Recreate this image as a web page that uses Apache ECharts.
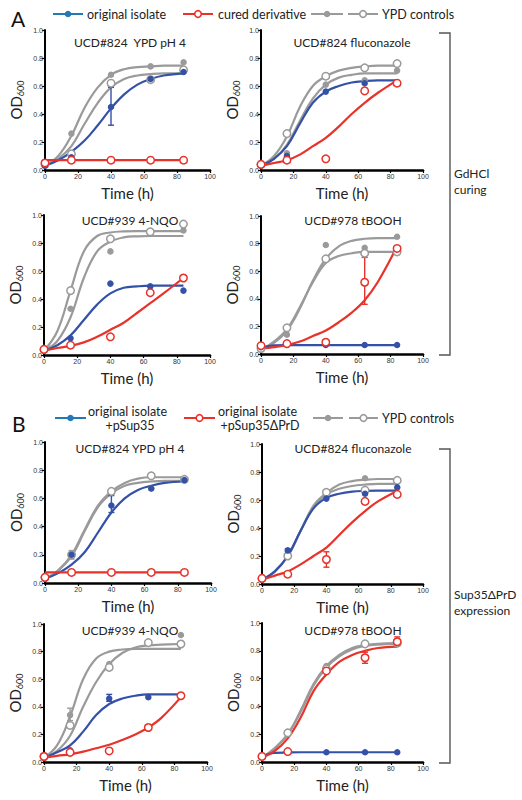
<!DOCTYPE html>
<html><head><meta charset="utf-8">
<script src="https://cdn.jsdelivr.net/npm/echarts@6/dist/echarts.min.js"></script>
<style>html,body{margin:0;padding:0;background:#fff}#c{width:522px;height:800px}</style>
</head><body><div id="c"></div>
<script>
// ---------------- DATA ----------------
const pointTimes = [0, 16, 40, 64, 84];
const fitTimes = [0, 8, 16, 24, 32, 40, 48, 56, 64, 72, 84];
const panelTitles = ['UCD#824  YPD pH 4', 'UCD#824 fluconazole', 'UCD#939 4-NQO', 'UCD#978 tBOOH',
                     'UCD#824 YPD pH 4', 'UCD#824 fluconazole', 'UCD#939 4-NQO', 'UCD#978 tBOOH'];
const legendA = ['original isolate', 'cured derivative', 'YPD controls'];
const legendB = ['original isolate', '+pSup35', 'original isolate', '+pSup35ΔPrD', 'YPD controls'];
const bracketLabels = ['GdHCl', 'curing', 'Sup35ΔPrD', 'expression'];

// Panel A1  UCD#824 YPD pH 4
const a1Blue = [0.03, 0.09, 0.45, 0.65, 0.70];
const a1BlueFit = [0.03, 0.07, 0.13, 0.21, 0.32, 0.44, 0.54, 0.61, 0.65, 0.675, 0.69];
const a1Red = [0.05, 0.07, 0.07, 0.07, 0.07];
const a1RedFit = [0.07, 0.07, 0.07, 0.07, 0.07, 0.07, 0.07, 0.07, 0.07, 0.07, 0.07];
const a1GreyF = [0.04, 0.26, 0.68, 0.74, 0.77];
const a1GreyFFit = [0.03, 0.10, 0.245, 0.445, 0.59, 0.68, 0.72, 0.735, 0.74, 0.745, 0.745];
const a1GreyO = [0.04, 0.115, 0.62, 0.645, 0.715];
const a1GreyOFit = [0.03, 0.08, 0.17, 0.33, 0.48, 0.59, 0.65, 0.675, 0.685, 0.69, 0.69];
const a1BlueErr = [[40, 0.32, 0.59]];

// Panel A2  UCD#824 fluconazole
const a2Blue = [0.03, 0.10, 0.56, 0.62, 0.625];
const a2BlueFit = [0.03, 0.08, 0.17, 0.33, 0.48, 0.56, 0.60, 0.625, 0.635, 0.64, 0.64];
const a2Red = [0.04, 0.07, 0.08, 0.565, 0.62];
const a2RedFit = [0.03, 0.05, 0.07, 0.11, 0.17, 0.23, 0.31, 0.40, 0.48, 0.55, 0.64];
const a2GreyF = [0.04, 0.12, 0.61, 0.64, 0.71];
const a2GreyFFit = [0.03, 0.08, 0.18, 0.35, 0.51, 0.61, 0.66, 0.68, 0.69, 0.69, 0.69];
const a2GreyO = [0.04, 0.26, 0.67, 0.73, 0.76];
const a2GreyOFit = [0.03, 0.10, 0.24, 0.45, 0.60, 0.67, 0.71, 0.73, 0.74, 0.745, 0.745];
const a2RedErr = [[64, 0.55, 0.585]];

// Panel A3  UCD#939 4-NQO
const a3Blue = [0.03, 0.12, 0.51, 0.49, 0.46];
const a3BlueFit = [0.03, 0.07, 0.14, 0.25, 0.36, 0.44, 0.48, 0.49, 0.495, 0.495, 0.495];
const a3Red = [0.04, 0.07, 0.13, 0.445, 0.55];
const a3RedFit = [0.03, 0.05, 0.065, 0.09, 0.13, 0.18, 0.23, 0.30, 0.37, 0.44, 0.55];
const a3GreyF = [0.04, 0.33, 0.74, 0.87, 0.89];
const a3GreyFFit = [0.03, 0.10, 0.27, 0.55, 0.74, 0.81, 0.84, 0.848, 0.85, 0.85, 0.85];
const a3GreyO = [0.04, 0.46, 0.83, 0.88, 0.935];
const a3GreyOFit = [0.03, 0.17, 0.46, 0.74, 0.85, 0.875, 0.883, 0.885, 0.885, 0.885, 0.885];
const a3GreyOErr = [[16, 0.44, 0.48]];

// Panel A4  UCD#978 tBOOH
const a4Blue = [0.05, 0.065, 0.065, 0.065, 0.065];
const a4BlueFit = [0.045, 0.062, 0.065, 0.065, 0.065, 0.065, 0.065, 0.065, 0.065, 0.065, 0.065];
const a4Red = [0.06, 0.075, 0.085, 0.52, 0.765];
const a4RedFit = [0.04, 0.05, 0.065, 0.09, 0.13, 0.17, 0.23, 0.30, 0.39, 0.52, 0.78];
const a4GreyF = [0.04, 0.14, 0.79, 0.77, 0.85];
const a4GreyFFit = [0.03, 0.08, 0.17, 0.33, 0.53, 0.69, 0.78, 0.82, 0.835, 0.84, 0.84];
const a4GreyO = [0.04, 0.19, 0.69, 0.73, 0.74];
const a4GreyOFit = [0.03, 0.09, 0.18, 0.34, 0.52, 0.66, 0.71, 0.73, 0.74, 0.74, 0.74];
const a4RedErr = [[64, 0.36, 0.70]];

// Panel B1  UCD#824 YPD pH 4
const b1Blue = [0.03, 0.20, 0.55, 0.67, 0.73];
const b1BlueFit = [0.03, 0.07, 0.13, 0.22, 0.36, 0.50, 0.60, 0.66, 0.69, 0.71, 0.72];
const b1Red = [0.04, 0.075, 0.075, 0.075, 0.075];
const b1RedFit = [0.075, 0.075, 0.075, 0.075, 0.075, 0.075, 0.075, 0.075, 0.075, 0.075, 0.075];
const b1GreyF = [0.04, 0.19, 0.65, 0.67, 0.735];
const b1GreyFFit = [0.03, 0.09, 0.19, 0.37, 0.54, 0.635, 0.69, 0.71, 0.72, 0.725, 0.725];
const b1GreyO = [0.04, 0.20, 0.65, 0.76, 0.735];
const b1GreyOFit = [0.03, 0.09, 0.20, 0.38, 0.55, 0.65, 0.71, 0.74, 0.75, 0.75, 0.75];
const b1BlueErr = [[40, 0.50, 0.62]];
const b1GreyErr = [[16, 0.17, 0.23]];

// Panel B2  UCD#824 fluconazole
const b2Blue = [0.03, 0.24, 0.61, 0.645, 0.69];
const b2BlueFit = [0.03, 0.09, 0.20, 0.38, 0.54, 0.615, 0.645, 0.66, 0.665, 0.667, 0.667];
const b2Red = [0.04, 0.07, 0.175, 0.59, 0.64];
const b2RedFit = [0.03, 0.06, 0.09, 0.14, 0.20, 0.26, 0.35, 0.44, 0.52, 0.59, 0.665];
const b2GreyF = [0.04, 0.20, 0.66, 0.755, 0.745];
const b2GreyFFit = [0.03, 0.09, 0.20, 0.38, 0.56, 0.65, 0.71, 0.735, 0.745, 0.75, 0.75];
const b2GreyO = [0.04, 0.20, 0.655, 0.67, 0.74];
const b2GreyOFit = [0.03, 0.09, 0.20, 0.38, 0.55, 0.64, 0.68, 0.70, 0.71, 0.715, 0.715];
const b2BlueErr = [[16, 0.21, 0.25]];
const b2RedErr = [[40, 0.12, 0.23]];

// Panel B3  UCD#939 4-NQO
const b3Blue = [0.03, 0.085, 0.46, 0.47, 0.48];
const b3BlueFit = [0.03, 0.07, 0.12, 0.22, 0.34, 0.42, 0.46, 0.48, 0.49, 0.49, 0.49];
const b3Red = [0.04, 0.07, 0.08, 0.25, 0.48];
const b3RedFit = [0.03, 0.045, 0.055, 0.075, 0.10, 0.125, 0.16, 0.20, 0.25, 0.32, 0.47];
const b3GreyF = [0.04, 0.34, 0.71, 0.865, 0.92];
const b3GreyFFit = [0.03, 0.12, 0.33, 0.60, 0.75, 0.80, 0.815, 0.82, 0.82, 0.82, 0.82];
const b3GreyO = [0.04, 0.265, 0.685, 0.865, 0.855];
const b3GreyOFit = [0.03, 0.08, 0.19, 0.40, 0.58, 0.71, 0.79, 0.83, 0.845, 0.85, 0.855];
const b3GreyErr = [[16, 0.30, 0.39]];
const b3BlueErr = [[40, 0.44, 0.49]];

// Panel B4  UCD#978 tBOOH
const b4Blue = [0.04, 0.07, 0.07, 0.07, 0.07];
const b4BlueFit = [0.04, 0.065, 0.068, 0.07, 0.07, 0.07, 0.07, 0.07, 0.07, 0.07, 0.07];
const b4Red = [0.04, 0.075, 0.655, 0.75, 0.865];
const b4RedFit = [0.03, 0.08, 0.17, 0.32, 0.51, 0.63, 0.72, 0.77, 0.80, 0.82, 0.83];
const b4GreyF = [0.04, 0.215, 0.69, 0.845, 0.865];
const b4GreyFFit = [0.03, 0.10, 0.20, 0.37, 0.56, 0.69, 0.77, 0.82, 0.84, 0.85, 0.855];
const b4GreyO = [0.04, 0.21, 0.67, 0.85, 0.855];
const b4GreyOFit = [0.03, 0.10, 0.20, 0.36, 0.55, 0.68, 0.76, 0.81, 0.835, 0.845, 0.85];
const b4RedErr = [[64, 0.71, 0.79], [84, 0.84, 0.90]];

// ---------------- LAYOUT / STYLE ----------------
const F = 'Lato';
const BLUE = '#3451a8', RED = '#e8322a', GREY = '#9a9a9a', LEG_BLUE = '#2479b5';
const grids = [
  {left: 45, top: 30, width: 165, height: 140},
  {left: 261, top: 30, width: 162, height: 140},
  {left: 44, top: 215, width: 166, height: 140},
  {left: 261, top: 216, width: 162, height: 138},
  {left: 45, top: 442, width: 166, height: 141},
  {left: 262, top: 444, width: 161, height: 140},
  {left: 44, top: 624, width: 163, height: 138},
  {left: 262, top: 623, width: 161, height: 139}
];
const titlePos = [[130, 42], [352, 42], [130, 220], [353, 220], [130, 448], [353, 448], [130, 630], [353, 630]];

const panels = [
  {blue: a1Blue, blueFit: a1BlueFit, red: a1Red, redFit: a1RedFit, gf: a1GreyF, gfFit: a1GreyFFit, go: a1GreyO, goFit: a1GreyOFit, errs: [[a1BlueErr, BLUE]]},
  {blue: a2Blue, blueFit: a2BlueFit, red: a2Red, redFit: a2RedFit, gf: a2GreyF, gfFit: a2GreyFFit, go: a2GreyO, goFit: a2GreyOFit, errs: [[a2RedErr, RED]]},
  {blue: a3Blue, blueFit: a3BlueFit, red: a3Red, redFit: a3RedFit, gf: a3GreyF, gfFit: a3GreyFFit, go: a3GreyO, goFit: a3GreyOFit, errs: [[a3GreyOErr, GREY]]},
  {blue: a4Blue, blueFit: a4BlueFit, red: a4Red, redFit: a4RedFit, gf: a4GreyF, gfFit: a4GreyFFit, go: a4GreyO, goFit: a4GreyOFit, errs: [[a4RedErr, RED]]},
  {blue: b1Blue, blueFit: b1BlueFit, red: b1Red, redFit: b1RedFit, gf: b1GreyF, gfFit: b1GreyFFit, go: b1GreyO, goFit: b1GreyOFit, errs: [[b1BlueErr, BLUE], [b1GreyErr, GREY]]},
  {blue: b2Blue, blueFit: b2BlueFit, red: b2Red, redFit: b2RedFit, gf: b2GreyF, gfFit: b2GreyFFit, go: b2GreyO, goFit: b2GreyOFit, errs: [[b2BlueErr, BLUE], [b2RedErr, RED]]},
  {blue: b3Blue, blueFit: b3BlueFit, red: b3Red, redFit: b3RedFit, gf: b3GreyF, gfFit: b3GreyFFit, go: b3GreyO, goFit: b3GreyOFit, errs: [[b3GreyErr, GREY], [b3BlueErr, BLUE]]},
  {blue: b4Blue, blueFit: b4BlueFit, red: b4Red, redFit: b4RedFit, gf: b4GreyF, gfFit: b4GreyFFit, go: b4GreyO, goFit: b4GreyOFit, errs: [[b4RedErr, RED]]}
];

const zip = (xs, ys) => xs.map((x, i) => [x, ys[i]]);

const xAxes = [], yAxes = [], series = [];
grids.forEach((g, i) => {
  xAxes.push({
    gridIndex: i, type: 'value', min: 0, max: 100, interval: 20,
    axisLine: {onZero: false, lineStyle: {color: '#000', width: 2.5}},
    axisTick: {length: 3, lineStyle: {color: '#000', width: 1.2}},
    axisLabel: {fontSize: 7, color: '#333', margin: 3, fontFamily: 'Liberation Sans'},
    splitLine: {show: false},
    name: 'Time (h)', nameLocation: 'middle', nameGap: 15,
    nameTextStyle: {fontSize: 15, color: '#222', fontFamily: F}
  });
  yAxes.push({
    gridIndex: i, type: 'value', min: 0, max: 1, interval: 0.2,
    axisLine: {show: true, lineStyle: {color: '#000', width: 2}},
    axisTick: {show: true, length: 3, lineStyle: {color: '#000', width: 1.2}},
    axisLabel: {fontSize: 7, color: '#333', margin: 2, fontFamily: 'Liberation Sans', formatter: v => v.toFixed(1)},
    splitLine: {show: false},
    name: '{a|OD}{b|600}', nameLocation: 'middle', nameRotate: 90, nameGap: 20,
    nameTextStyle: {rich: {
      a: {fontSize: 15, fontFamily: F, color: '#222', lineHeight: 18},
      b: {fontSize: 9, fontFamily: F, color: '#222', lineHeight: 10, verticalAlign: 'bottom'}
    }}
  });
  const p = panels[i];
  const line = (data, color, z) => ({
    type: 'line', xAxisIndex: i, yAxisIndex: i, data: zip(fitTimes, data), smooth: 0.4,
    showSymbol: false, symbol: 'none', lineStyle: {color, width: 2.2}, z, silent: true, animation: false
  });
  series.push(line(p.gfFit, GREY, 2), line(p.goFit, GREY, 2), line(p.blueFit, BLUE, 3), line(p.redFit, RED, 4));
  p.errs.forEach(([err, color]) => {
    series.push({
      type: 'custom', xAxisIndex: i, yAxisIndex: i, data: err, z: 5, silent: true, animation: false,
      renderItem: (params, api) => {
        const a = api.coord([api.value(0), api.value(1)]);
        const b = api.coord([api.value(0), api.value(2)]);
        const st = {stroke: color, lineWidth: 1.4};
        return {type: 'group', children: [
          {type: 'line', shape: {x1: a[0], y1: a[1], x2: b[0], y2: b[1]}, style: st},
          {type: 'line', shape: {x1: a[0] - 3, y1: a[1], x2: a[0] + 3, y2: a[1]}, style: st},
          {type: 'line', shape: {x1: b[0] - 3, y1: b[1], x2: b[0] + 3, y2: b[1]}, style: st}
        ]};
      }
    });
  });
  const pts = (data, filled, color, z) => ({
    type: 'scatter', xAxisIndex: i, yAxisIndex: i, data: zip(pointTimes, data), z, silent: true, animation: false,
    symbol: 'circle', symbolSize: filled ? 6.5 : 7.5,
    itemStyle: filled ? {color, opacity: 1} : {color: '#fff', borderColor: color, borderWidth: 1.5, opacity: 1}
  });
  series.push(pts(p.gf, true, GREY, 6), pts(p.go, false, GREY, 6), pts(p.blue, true, BLUE, 7), pts(p.red, false, RED, 8));
});

// ---------------- GRAPHICS (titles, legends, brackets) ----------------
const graphic = [];
const txt = (text, x, y, size, align, color) => ({
  type: 'text', silent: true,
  style: {text, x, y, font: size + 'px ' + F, fill: color || '#222', align: align || 'left', verticalAlign: 'middle'}
});
panelTitles.forEach((t, i) => graphic.push(txt(t, titlePos[i][0], titlePos[i][1], 12, 'center')));
const legLine = (x1, x2, y, color, filled) => {
  graphic.push({type: 'line', silent: true, shape: {x1, y1: y, x2, y2: y}, style: {stroke: color, lineWidth: 2}});
  graphic.push({type: 'circle', silent: true, shape: {cx: (x1 + x2) / 2, cy: y, r: 3.3},
    style: filled ? {fill: color} : {fill: '#fff', stroke: color, lineWidth: 1.6}});
};
// Legend A
graphic.push(txt('A', 11, 18, 21, 'left', '#111'));
legLine(53, 83, 14, LEG_BLUE, true); graphic.push(txt(legendA[0], 87, 14, 12.5));
legLine(183, 213, 14, RED, false); graphic.push(txt(legendA[1], 218, 14, 12.5));
legLine(311, 343, 14, GREY, true); legLine(348, 378, 14, GREY, false); graphic.push(txt(legendA[2], 382, 14, 12.5));
// Legend B
graphic.push(txt('B', 12, 423, 21, 'left', '#111'));
legLine(55, 86, 418, LEG_BLUE, true); graphic.push(txt(legendB[0], 88, 411, 12.5)); graphic.push(txt(legendB[1], 130, 425, 12.5, 'center'));
legLine(184, 215, 418, RED, false); graphic.push(txt(legendB[2], 218, 411, 12.5)); graphic.push(txt(legendB[3], 260, 425, 12.5, 'center'));
legLine(313, 343, 418, GREY, true); legLine(349, 378, 418, GREY, false); graphic.push(txt(legendB[4], 382, 418, 12.5));
// Brackets
graphic.push({type: 'polyline', silent: true, shape: {points: [[439, 33], [450, 33], [450, 355], [439, 355]]}, style: {stroke: '#555', lineWidth: 1.4, fill: null}});
graphic.push(txt(bracketLabels[0], 454, 173.5, 12));
graphic.push(txt(bracketLabels[1], 454, 189, 12));
graphic.push({type: 'polyline', silent: true, shape: {points: [[439, 449], [450, 449], [450, 763], [439, 763]]}, style: {stroke: '#555', lineWidth: 1.4, fill: null}});
graphic.push(txt(bracketLabels[2], 454, 594.5, 12));
graphic.push(txt(bracketLabels[3], 454, 610, 12));

const chart = echarts.init(document.getElementById('c'), null, {renderer: 'svg'});
chart.setOption({
  backgroundColor: '#fff', animation: false,
  grid: grids, xAxis: xAxes, yAxis: yAxes, series, graphic
});
</script></body></html>
